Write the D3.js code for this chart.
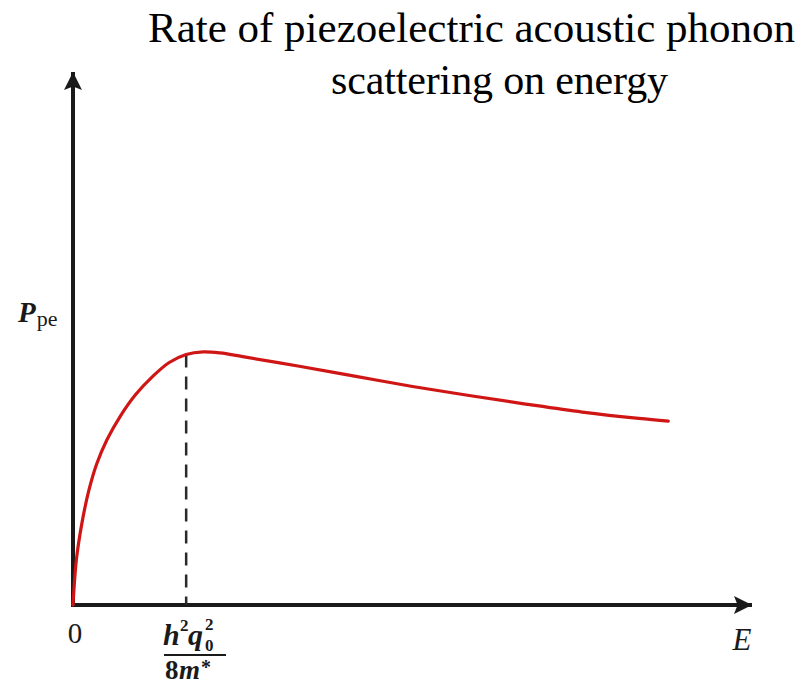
<!DOCTYPE html>
<html>
<head>
<meta charset="utf-8">
<script src="https://cdn.jsdelivr.net/npm/d3@7"></script>
<style>
  body { margin: 0; background: #fff; }
  svg { display: block; }
</style>
</head>
<body>
<div id="chart"></div>
<script>
// Energy in units of E0 = h^2 q0^2 / 8m*
var energy = [0, 0.03, 0.08, 0.14, 0.21, 0.3, 0.42, 0.55, 0.7, 0.85, 1.0, 1.15, 1.3,
              1.5, 2.0, 2.5, 3.0, 3.5, 4.0, 4.5, 5.0, 5.26];
// Scattering rate P_pe (arbitrary units)
var rate = [0, 0.085, 0.155, 0.215, 0.265, 0.31, 0.355, 0.394, 0.428, 0.455, 0.47, 0.475, 0.473,
            0.466, 0.448, 0.429, 0.41, 0.393, 0.377, 0.362, 0.35, 0.345];
var peakEnergy = 1.0;
var titleLines = ["Rate of piezoelectric acoustic phonon", "scattering on energy"];

var width = 805, height = 684;
var serif = "'Liberation Serif', 'Times New Roman', serif";
var ink = "#1a1a1a";

var svg = d3.select("#chart")
            .append("svg")
            .attr("width", width)
            .attr("height", height);

var xScale = d3.scaleLinear().domain([0, 6]).range([73, 752]);
var yScale = d3.scaleLinear().domain([0, 1]).range([605, 72]);

// arrow heads
svg.append("defs").append("marker")
    .attr("id", "arrow")
    .attr("viewBox", "0 0 10 10")
    .attr("refX", 10).attr("refY", 5)
    .attr("markerWidth", 5).attr("markerHeight", 4.5)
    .attr("markerUnits", "strokeWidth")
    .attr("orient", "auto")
  .append("path")
    .attr("d", "M0,0 L10,5 L0,10 L2,5 Z")
    .attr("fill", ink);

// axes
svg.append("line")
   .attr("x1", xScale(0) - 2).attr("y1", yScale(0))
   .attr("x2", xScale(6)).attr("y2", yScale(0))
   .attr("stroke", ink).attr("stroke-width", 4)
   .attr("marker-end", "url(#arrow)");
svg.append("line")
   .attr("x1", xScale(0)).attr("y1", yScale(0) + 2)
   .attr("x2", xScale(0)).attr("y2", yScale(1))
   .attr("stroke", ink).attr("stroke-width", 4)
   .attr("marker-end", "url(#arrow)");

// dashed line at the peak
var peakRate = rate[energy.indexOf(peakEnergy)];
svg.append("line")
   .attr("x1", xScale(peakEnergy)).attr("x2", xScale(peakEnergy))
   .attr("y1", yScale(peakRate)).attr("y2", yScale(0))
   .attr("stroke", "#2a2a2a").attr("stroke-width", 2.5)
   .attr("stroke-dasharray", "13,9");

// curve
var line = d3.line()
             .x(function(d, i) { return xScale(energy[i]); })
             .y(function(d, i) { return yScale(rate[i]); })
             .curve(d3.curveCatmullRom.alpha(0.5));
svg.append("path")
   .datum(rate)
   .attr("d", line)
   .attr("fill", "none")
   .attr("stroke", "#d01515")
   .attr("stroke-width", 3.2)
   .attr("stroke-linecap", "round");

// title
svg.append("text")
   .attr("x", 148).attr("y", 42)
   .attr("font-family", serif).attr("font-size", "43px")
   .text(titleLines[0]);
svg.append("text")
   .attr("x", 331).attr("y", 94)
   .attr("font-family", serif).attr("font-size", "42px")
   .attr("textLength", 337)
   .text(titleLines[1]);

// y label P_pe
var yl = svg.append("text")
   .attr("x", 18).attr("y", 322)
   .attr("font-family", serif).attr("fill", ink);
yl.append("tspan").attr("font-size", "29px").attr("font-style", "italic").attr("font-weight", "bold").text("P");
yl.append("tspan").attr("font-size", "22px").attr("dy", 4).attr("dx", 1).text("pe");

// x labels
svg.append("text")
   .attr("x", 75).attr("y", 643)
   .attr("text-anchor", "middle")
   .attr("font-family", serif).attr("font-size", "29px").attr("fill", ink)
   .text("0");

svg.append("text")
   .attr("x", 742).attr("y", 650)
   .attr("text-anchor", "middle")
   .attr("font-family", serif).attr("font-size", "31px").attr("font-style", "italic").attr("fill", ink)
   .text("E");

// fraction h^2 q0^2 / 8m*
function fracText(x, y, size, italic, str) {
  return svg.append("text").attr("x", x).attr("y", y)
            .attr("font-family", serif)
            .attr("font-weight", "bold")
            .attr("fill", ink)
            .attr("font-size", size + "px")
            .attr("font-style", italic ? "italic" : "normal")
            .text(str);
}
fracText(163, 645, 30, true, "h");
fracText(180, 631, 17, false, "2");
fracText(188, 645, 30, true, "q");
fracText(205, 651, 17, false, "0");
fracText(205, 630, 17, false, "2");

svg.append("line")
   .attr("x1", 164).attr("x2", 226)
   .attr("y1", 655).attr("y2", 655)
   .attr("stroke", ink).attr("stroke-width", 2);

fracText(165, 679, 27, false, "8");
fracText(179, 679, 27, true, "m");
fracText(201, 674, 20, false, "*");
</script>
</body>
</html>
